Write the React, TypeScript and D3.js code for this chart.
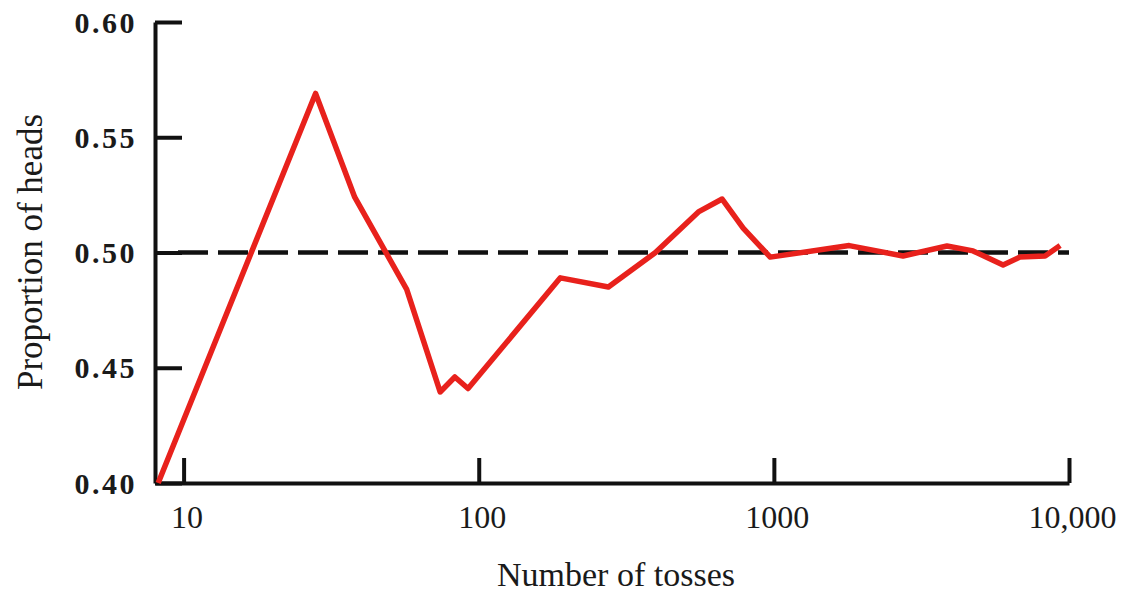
import React, { useEffect, useRef } from "react";
import * as d3 from "d3";

const WIDTH = 1132;
const HEIGHT = 598;

// number of tosses (log axis) and running proportion of heads
const tosses = [8.2, 28, 38, 57, 74, 83, 92, 189, 275, 397, 555, 668, 787, 972, 1800, 2740, 3860, 4730, 5980, 6820, 8300, 9330];
const proportions = [0.4, 0.569, 0.524, 0.484, 0.4395, 0.446, 0.441, 0.489, 0.485, 0.5, 0.5176, 0.5232, 0.5106, 0.498, 0.503, 0.4985, 0.5028, 0.5007, 0.4946, 0.498, 0.4985, 0.503];

const xTicks = [10, 100, 1000, 10000];
const xTickLabels = ["10", "100", "1000", "10,000"];
const yTicks = [0.4, 0.45, 0.5, 0.55, 0.6];
const expected = 0.5;

const SERIF = "'Liberation Serif', 'Times New Roman', serif";

export default function App() {
  const ref = useRef<SVGSVGElement | null>(null);

  useEffect(() => {
    const svg = d3.select(ref.current);
    svg.selectAll("*").remove();

    const x = d3.scaleLog().domain([8, 10000]).range([155, 1069]);
    const y = d3.scaleLinear().domain([0.4, 0.6]).range([483, 22]);

    // expected value, dashed
    svg
      .append("line")
      .attr("x1", 178)
      .attr("x2", x(10000))
      .attr("y1", y(expected))
      .attr("y2", y(expected))
      .attr("stroke", "#111")
      .attr("stroke-width", 4.5)
      .attr("stroke-dasharray", "30 10");

    const yAxis = d3
      .axisLeft(y)
      .tickValues(yTicks)
      .tickFormat(d3.format(".2f"))
      .tickSizeInner(-27)
      .tickSizeOuter(0)
      .tickPadding(18);

    const gy = svg.append("g").attr("transform", `translate(${x(8)},0)`).call(yAxis);
    gy.select(".domain").attr("stroke", "#111").attr("stroke-width", 4);
    gy.selectAll(".tick line").attr("stroke", "#111").attr("stroke-width", 4);
    gy.selectAll(".tick text")
      .attr("fill", "#1a1a1a")
      .attr("font-family", SERIF)
      .attr("font-size", 30)
      .attr("font-weight", "bold")
      .attr("letter-spacing", 2.5)
      .attr("dy", "0.34em");

    const xAxis = d3
      .axisBottom(x)
      .tickValues(xTicks)
      .tickFormat((d, i) => xTickLabels[i])
      .tickSizeInner(-25)
      .tickSizeOuter(0)
      .tickPadding(22);

    const gx = svg.append("g").attr("transform", `translate(0,${y(0.4)})`).call(xAxis);
    gx.select(".domain").attr("stroke", "#111").attr("stroke-width", 4);
    gx.selectAll(".tick line").attr("stroke", "#111").attr("stroke-width", 4);
    gx.selectAll(".tick text")
      .attr("fill", "#1a1a1a")
      .attr("font-family", SERIF)
      .attr("font-size", 32)
      .attr("dx", 3);

    const line = d3
      .line<number>()
      .x((d, i) => x(tosses[i]))
      .y((d) => y(d));

    svg
      .append("path")
      .datum(proportions)
      .attr("d", line)
      .attr("fill", "none")
      .attr("stroke", "#e8211c")
      .attr("stroke-width", 5.5)
      .attr("stroke-linejoin", "round");

    svg
      .append("text")
      .attr("x", 616)
      .attr("y", 586)
      .attr("text-anchor", "middle")
      .attr("font-family", SERIF)
      .attr("font-size", 34)
      .attr("fill", "#1a1a1a")
      .text("Number of tosses");

    svg
      .append("text")
      .attr("transform", "translate(42,252) rotate(-90)")
      .attr("text-anchor", "middle")
      .attr("font-family", SERIF)
      .attr("font-size", 35)
      .attr("fill", "#1a1a1a")
      .text("Proportion of heads");
  }, []);

  return (
    <svg
      ref={ref}
      width={WIDTH}
      height={HEIGHT}
      style={{ position: "absolute", left: 0, top: 0, background: "#fff" }}
    />
  );
}
